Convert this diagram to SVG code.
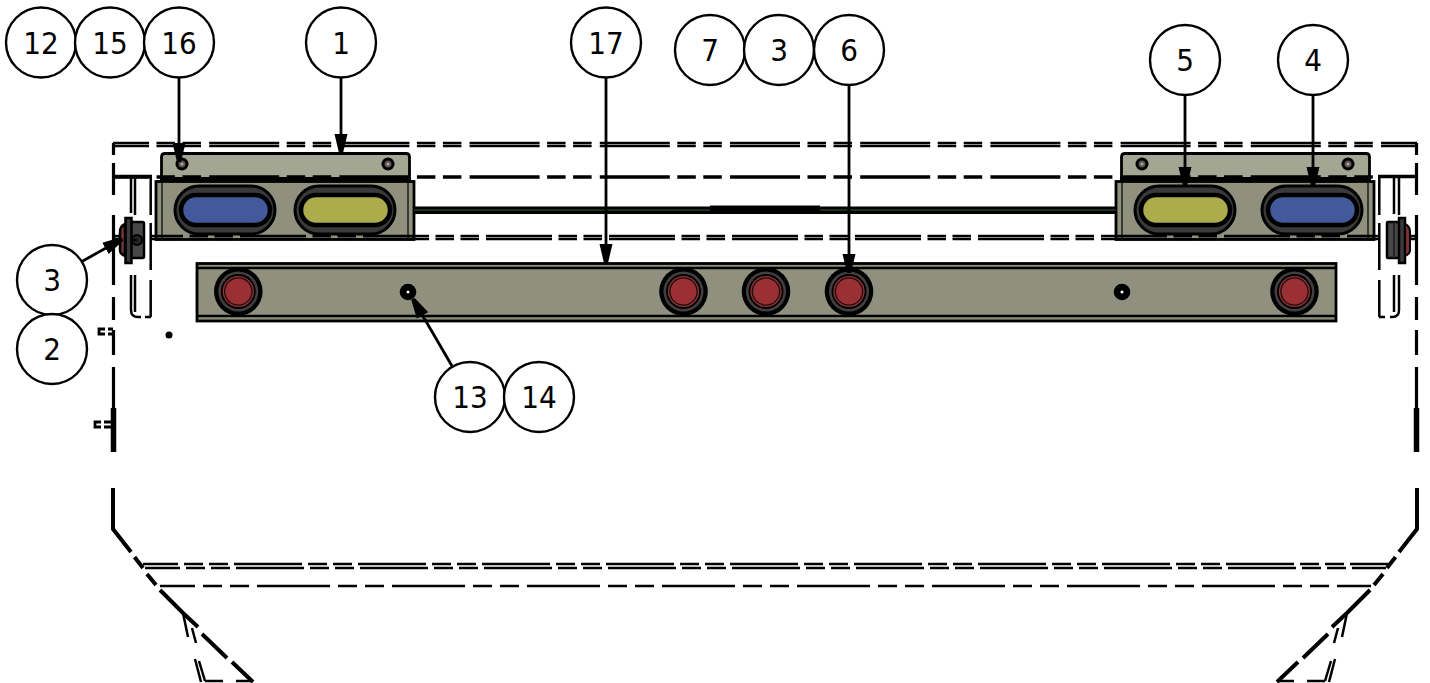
<svg xmlns="http://www.w3.org/2000/svg" width="1430" height="683" viewBox="0 0 1430 683">
<style>
.f{fill:none;stroke:#000;stroke-width:3.400}
.v{fill:none;stroke:#000;stroke-width:3.200}
.t{fill:none;stroke:#000;stroke-width:2.500}
.dt{stroke-dasharray:70 7.500 18.500 7.500 18.500 8.200;stroke-dashoffset:34}
.dm{stroke-dasharray:66 6.500 18.500 6.500 18.500 7;stroke-dashoffset:33}
.db{stroke-dasharray:68 6 19 6 19 6;stroke-dashoffset:33}
.dl{stroke-dasharray:73 8 19 8 19 8;stroke-dashoffset:38}
.leader{fill:none;stroke:#000;stroke-width:2.800;marker-end:url(#ah)}
.c{fill:#fff;stroke:#000;stroke-width:2.400}
.n{font-family:"DejaVu Sans Condensed","DejaVu Sans",Verdana,sans-serif;font-size:31px;fill:#000;text-anchor:middle}
.p{fill:#a3a692;stroke:#000;stroke-width:2.800}
.b{fill:#8f917e;stroke:#000;stroke-width:2.800}
.o1{fill:#3a3a3a;stroke:#000;stroke-width:3}
.o2{stroke:#000;stroke-width:4.500}
.bl{fill:#425a9c}.ye{fill:#acac4c}
</style>
<defs>
<marker id="ah" markerUnits="userSpaceOnUse" markerWidth="20" markerHeight="14" refX="19" refY="7" orient="auto">
<path d="M0 0.500L19 5V9L0 13.500Z" fill="#000"/>
</marker>
<g id="lamp">
<circle r="24.300" fill="#000"/><circle r="20" fill="#404040"/><circle r="17.500" fill="#000"/><circle r="15.600" fill="#9a3034"/><circle r="14.300" fill="#111"/><circle r="13" fill="#9a3034"/>
</g>
<g id="hole">
<circle r="6.500" fill="#000"/><circle r="3.500" fill="#555"/><circle r="1.500" fill="#b9a888"/>
</g>
</defs>

<g id="frame">
<path class="t dt" d="M113 143H1417"/>
<path class="t dt" d="M113 146H1417"/>
<path class="v" d="M113.500 143V155M113.500 163V195M113.500 215V285M113.500 297V320M113.500 330V355M113.500 367V452"/>
<path class="v" d="M1416.500 143V155M1416.500 163V195M1416.500 215V285M1416.500 297V320M1416.500 330V355M1416.500 367V452"/>
<path d="M113.500 408V452M1416.500 408V452" stroke="#000" stroke-width="5.500" fill="none"/>
<path class="f" d="M113 176.500H152M1378 176.500H1417"/>
<path class="t" d="M131 177V213M135 177V215M131 275V310Q131 317 138 317H141M135 275V312M145 317H151M150.700 177V215M150.700 223V270M150.700 280V317"/>
<path class="t" d="M1394 177V214M1399 177V215M1399 275V310Q1399 317 1392 317H1390M1394 275V312M1379 317H1385M1379.300 177V215M1379.300 223V270M1379.300 280V317"/>
<path d="M113 488V529L131 552M134.500 557L143 568M147 574L156 585M160 590L183 613L198 627M202 634L227 658M232 662L253 682" fill="none" stroke="#000" stroke-width="4"/>
<path d="M1417 488V529L1399 552M1395.500 557L1387 568M1383 574L1374 585M1370 590L1347 613L1332 627M1328 634L1303 658M1298 662L1277 682" fill="none" stroke="#000" stroke-width="4"/>
<path class="t db" d="M143 564H1388"/>
<path class="t db" d="M145 568H1386"/>
<path class="t dl" d="M160 586H1371"/>
<path class="t" d="M183 613L188 637M192 628L196 643M195 659L201 682M199 661L205 681M205 681H223M236 681H253"/>
<path class="t" d="M1347 613L1342 637M1338 628L1334 643M1335 659L1329 682M1331 661L1325 681M1325 681H1307M1294 681H1277"/>
<path d="M105 329H99V334H105M108 329H113M108 334H113" fill="none" stroke="#000" stroke-width="2.800"/>
<path d="M101 422H95V427H101M104 422H112M104 427H112" fill="none" stroke="#000" stroke-width="2.800"/>
<circle cx="169" cy="335" r="3.500" fill="#000"/>
</g>

<g id="bracket-left">
<path class="p" d="M161.500 180V157Q161.500 153.500 165 153.500H406Q409.500 153.500 409.500 157V180Z"/>
<use href="#hole" x="182" y="164"/>
<use href="#hole" x="388" y="164"/>
</g>
<g id="bracket-right">
<path class="p" d="M1121.500 180V157Q1121.500 153.500 1125 153.500H1366Q1369.500 153.500 1369.500 157V180Z"/>
<use href="#hole" x="1142" y="164"/>
<use href="#hole" x="1348" y="164"/>
</g>

<g id="housing-left">
<rect class="b" x="156" y="181.500" width="258" height="58"/>
<path d="M162 181V240M408 181V240" stroke="#000" stroke-width="1.200"/>
<rect class="o1" x="175" y="186" width="100" height="48" rx="24"/>
<rect class="o2 bl" x="181" y="195" width="89" height="30" rx="15"/>
<rect class="o1" x="295" y="186" width="100" height="48" rx="24"/>
<rect class="o2 ye" x="301" y="195" width="89" height="30" rx="15"/>
</g>
<g id="housing-right">
<rect class="b" x="1116" y="181.500" width="258" height="58"/>
<path d="M1122 181V240M1368 181V240" stroke="#000" stroke-width="1.200"/>
<rect class="o1" x="1135" y="186" width="100" height="48" rx="24"/>
<rect class="o2 ye" x="1141" y="195" width="89" height="30" rx="15"/>
<rect class="o1" x="1262" y="186" width="100" height="48" rx="24"/>
<rect class="o2 bl" x="1268" y="195" width="89" height="30" rx="15"/>
</g>
<g id="cable">
<rect x="414" y="206.500" width="702" height="7.500" fill="#000"/>
<path d="M414 210H710M820 210H1116" stroke="#3c5a34" stroke-width="1"/>
<rect x="710" y="205.500" width="110" height="8.500" fill="#000"/>
</g>
<rect x="160" y="177" width="251" height="3.200" fill="#000"/>
<rect x="1120" y="177" width="251" height="3.200" fill="#000"/>
<path class="f dt" d="M113 177H1378"/>
<path class="t dm" d="M150 236H1380"/>
<path class="t dm" d="M150 239H1380"/>
<path class="t" d="M113 236H120M113 239H120M1410 236H1417M1410 239H1417"/>

<g id="light-bar">
<rect class="b" x="197" y="263.500" width="1139" height="57.500"/>
<path d="M197 268H1336M197 316H1336" stroke="#000" stroke-width="2.400"/>
<use href="#lamp" x="238.300" y="291.500"/>
<use href="#lamp" x="683.500" y="291.500"/>
<use href="#lamp" x="766" y="291.500"/>
<use href="#lamp" x="849" y="291.500"/>
<use href="#lamp" x="1294.500" y="291.500"/>
<circle cx="408" cy="292" r="8.300" fill="#000"/><circle cx="408" cy="292" r="1.500" fill="#fff"/>
<circle cx="1122" cy="292" r="8.300" fill="#000"/><circle cx="1122" cy="292" r="1.500" fill="#fff"/>
</g>

<g id="grommet-left">
<rect x="128" y="222" width="16" height="36" rx="1.500" fill="#474747" stroke="#000" stroke-width="2.500"/>
<rect x="125.500" y="218" width="6" height="45" fill="#3a3a3a" stroke="#000" stroke-width="2.500"/>
<path d="M125 224Q120 226 120 232V250Q120 254 125 256Z" fill="#3a3a3a" stroke="#000" stroke-width="2.500"/>
<path d="M122.500 228V252" stroke="#8a3034" stroke-width="1.500"/>
<circle cx="137" cy="240" r="5" fill="#222" stroke="#000" stroke-width="2"/>
<path d="M131 240H137" stroke="#000" stroke-width="2"/>
</g>
<g id="grommet-right">
<rect x="1387" y="222" width="15" height="36" rx="1" fill="#474747" stroke="#000" stroke-width="2.500"/>
<path d="M1394 222V258" stroke="#222" stroke-width="2"/>
<rect x="1399" y="218" width="6" height="45" fill="#3a3a3a" stroke="#000" stroke-width="2.500"/>
<path d="M1405 224Q1410 226 1410 232V250Q1410 254 1405 256Z" fill="#7a3034" stroke="#000" stroke-width="2"/>
</g>

<g id="connectors">
<path class="leader" d="M179 77V162"/>
<path class="leader" d="M341 77V153"/>
<path class="leader" d="M606 77V263"/>
<path class="leader" d="M849 84V273"/>
<path class="leader" d="M1185 94V186"/>
<path class="leader" d="M1313 94V186"/>
<path class="leader" d="M81 262L122 239"/>
<path class="leader" d="M452 366L413 299"/>
</g>

<g id="n12"><circle class="c" cx="41" cy="42.500" r="35"/><text class="n" x="41" y="54">12</text></g>
<g id="n15"><circle class="c" cx="110" cy="42.500" r="35"/><text class="n" x="110" y="54">15</text></g>
<g id="n16"><circle class="c" cx="179" cy="42.500" r="35"/><text class="n" x="179" y="54">16</text></g>
<g id="n1"><circle class="c" cx="341" cy="42.500" r="35"/><text class="n" x="341" y="54">1</text></g>
<g id="n17"><circle class="c" cx="606" cy="42.500" r="35"/><text class="n" x="606" y="54">17</text></g>
<g id="n7"><circle class="c" cx="710" cy="50" r="35"/><text class="n" x="710" y="61">7</text></g>
<g id="n3a"><circle class="c" cx="779" cy="50" r="35"/><text class="n" x="779" y="61">3</text></g>
<g id="n6"><circle class="c" cx="849" cy="50" r="35"/><text class="n" x="849" y="61">6</text></g>
<g id="n5"><circle class="c" cx="1185" cy="60" r="35"/><text class="n" x="1185" y="71">5</text></g>
<g id="n4"><circle class="c" cx="1313" cy="60" r="35"/><text class="n" x="1313" y="71">4</text></g>
<g id="n3b"><circle class="c" cx="52" cy="280" r="35"/><text class="n" x="52" y="291">3</text></g>
<g id="n2"><circle class="c" cx="52" cy="349" r="35"/><text class="n" x="52" y="360">2</text></g>
<g id="n13"><circle class="c" cx="470" cy="397" r="35"/><text class="n" x="470" y="408">13</text></g>
<g id="n14"><circle class="c" cx="539" cy="397" r="35"/><text class="n" x="539" y="408">14</text></g>
</svg>
